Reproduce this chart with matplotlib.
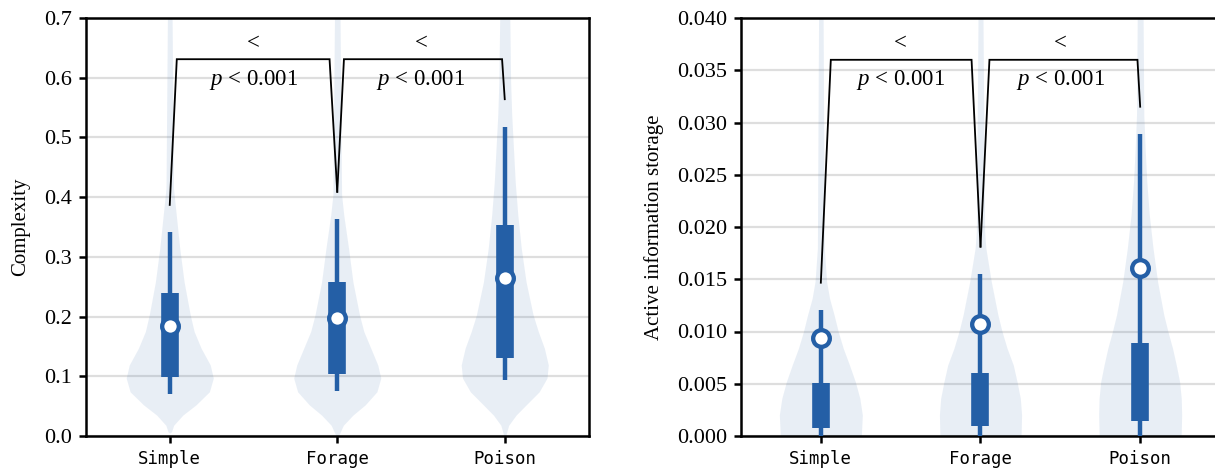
import matplotlib
matplotlib.use("Agg")
import matplotlib.pyplot as plt
import numpy as np

plt.rcParams["font.family"] = ["Liberation Serif", "DejaVu Serif"]
plt.rcParams["mathtext.fontset"] = "custom"
plt.rcParams["mathtext.rm"] = "Liberation Serif"
plt.rcParams["mathtext.it"] = "Liberation Serif:italic"

categories = ["Simple", "Forage", "Poison"]

# ---- Complexity: summary statistics per environment ----
cx_whisker_lo = [0.071, 0.075, 0.093]
cx_q1 = [0.099, 0.104, 0.131]
cx_marker = [0.185, 0.197, 0.264]
cx_q3 = [0.240, 0.258, 0.354]
cx_whisker_hi = [0.342, 0.363, 0.518]
cx_bracket_feet = [0.387, 0.409, 0.564]
cx_bracket_top = 0.631

# Complexity density profiles (value, relative density)
cx_simple_levels = [0.005, 0.007, 0.018, 0.035, 0.052, 0.074, 0.097, 0.119, 0.147,
                    0.175, 0.203, 0.258, 0.314, 0.370, 0.415, 0.70]
cx_simple_density = [0.0, 0.04, 0.09, 0.30, 0.60, 0.91, 1.0, 0.93, 0.72,
                     0.56, 0.47, 0.33, 0.23, 0.15, 0.086, 0.054]
cx_forage_levels = [0.0, 0.002, 0.018, 0.035, 0.052, 0.074, 0.097, 0.119, 0.147,
                    0.175, 0.203, 0.258, 0.314, 0.370, 0.404, 0.70]
cx_forage_density = [0.03, 0.04, 0.14, 0.36, 0.64, 0.91, 1.0, 0.93, 0.77,
                     0.61, 0.51, 0.36, 0.26, 0.15, 0.10, 0.064]
cx_poison_levels = [0.0, 0.018, 0.035, 0.052, 0.074, 0.097, 0.119, 0.147, 0.175,
                    0.203, 0.258, 0.314, 0.370, 0.426, 0.482, 0.538, 0.593, 0.70]
cx_poison_density = [0.02, 0.09, 0.26, 0.49, 0.79, 0.97, 1.0, 0.91, 0.77,
                     0.65, 0.49, 0.38, 0.30, 0.24, 0.20, 0.16, 0.135, 0.116]

# ---- Active information storage: summary statistics ----
ais_whisker_lo = [0.0, 0.0, 0.0]
ais_q1 = [0.0008, 0.0010, 0.00144]
ais_marker = [0.00935, 0.0107, 0.01611]
ais_q3 = [0.00504, 0.00606, 0.00893]
ais_whisker_hi = [0.01206, 0.0155, 0.0289]
ais_bracket_feet = [0.01467, 0.01812, 0.03151]
ais_bracket_top = 0.0360

ais_simple_levels = [-0.0005, 0.0004, 0.00201, 0.0036, 0.0052, 0.00679, 0.00839,
                     0.00998, 0.01158, 0.01317, 0.01477, 0.01796, 0.04]
ais_simple_density = [0.97, 0.98, 1.0, 0.94, 0.83, 0.69, 0.54,
                      0.42, 0.32, 0.21, 0.14, 0.083, 0.055]
ais_forage_levels = [-0.0005, 0.0004, 0.00201, 0.0036, 0.0052, 0.00679, 0.00839,
                     0.00998, 0.01158, 0.01477, 0.01796, 0.01955, 0.04]
ais_forage_density = [0.97, 0.98, 0.99, 0.96, 0.88, 0.79, 0.64,
                      0.52, 0.42, 0.26, 0.13, 0.10, 0.06]
ais_poison_levels = [-0.0005, 0.0004, 0.00201, 0.0036, 0.0052, 0.00679, 0.00839,
                     0.00998, 0.01158, 0.01477, 0.01796, 0.02115, 0.02434,
                     0.02753, 0.0307, 0.04]
ais_poison_density = [0.98, 0.99, 1.0, 0.99, 0.95, 0.87, 0.78,
                      0.67, 0.57, 0.42, 0.31, 0.22, 0.16,
                      0.12, 0.088, 0.071]

comparison_symbol = "<"
comparison_text = r"$p$ < 0.001"

BLUE = "#245fa6"
HALF_WIDTH = 0.26


def draw_panel(ax, profiles, lo, q1, mid, q3, hi, feet, top, sym_y, p_y,
               slants, ylim, yticks, fmt, ylabel):
    x = np.arange(len(categories))
    for i, (lev, dens) in enumerate(profiles):
        lev = np.asarray(lev)
        dens = np.asarray(dens)
        ax.fill_betweenx(lev, i - HALF_WIDTH * dens, i + HALF_WIDTH * dens,
                         color=BLUE, alpha=0.1, lw=0, zorder=1)
    for i in x:
        ax.plot([i, i], [lo[i], hi[i]], color=BLUE, lw=3.2,
                solid_capstyle="butt", zorder=3)
        ax.plot([i, i], [q1[i], q3[i]], color=BLUE, lw=12.7,
                solid_capstyle="butt", zorder=4)
    ax.plot(x, mid, "o", ms=12, mew=3.1, mfc="white", mec=BLUE,
            ls="none", zorder=5)

    # significance brackets between neighbouring environments
    for k in range(len(categories) - 1):
        a, b = slants[k]
        ax.plot([k, k + a, k + 1 - b, k + 1],
                [feet[k], top, top, feet[k + 1]],
                color="black", lw=1.3, zorder=6, solid_joinstyle="miter")
        ax.text(k + 0.5, sym_y, comparison_symbol, ha="center", va="center",
                fontsize=16.5)
        ax.text(k + 0.5, p_y, comparison_text, ha="center", va="center",
                fontsize=16.5)

    ax.set_xlim(-0.5, 2.5)
    ax.set_ylim(*ylim)
    ax.set_yticks(yticks)
    ax.set_yticklabels([fmt.format(t) for t in yticks], fontsize=16)
    ax.set_xticks(x)
    ax.set_xticklabels(categories, fontsize=12.5, family="DejaVu Sans Mono")
    ax.yaxis.grid(True, color="#dedede", lw=1.6)
    ax.set_axisbelow(True)
    for s in ax.spines.values():
        s.set_linewidth(1.8)
    ax.tick_params(axis="both", length=5, width=1.8, pad=5)
    ax.set_ylabel(ylabel, fontsize=15)


fig = plt.figure(figsize=(12.15, 4.72), dpi=100)
ax1 = fig.add_axes([86 / 1215, 36 / 472, 502.5 / 1215, 418 / 472])
ax2 = fig.add_axes([741 / 1215, 36 / 472, 479 / 1215, 418 / 472])

draw_panel(ax1,
           [(cx_simple_levels, cx_simple_density),
            (cx_forage_levels, cx_forage_density),
            (cx_poison_levels, cx_poison_density)],
           cx_whisker_lo, cx_q1, cx_marker, cx_q3, cx_whisker_hi,
           cx_bracket_feet, cx_bracket_top, 0.6577, 0.5963,
           [(0.042, 0.046), (0.040, 0.016)],
           (0, 0.7), np.round(np.arange(0, 0.71, 0.1), 2), "{:.1f}",
           "Complexity")
ax1.yaxis.set_label_coords(-0.112, 0.5)

draw_panel(ax2,
           [(ais_simple_levels, ais_simple_density),
            (ais_forage_levels, ais_forage_density),
            (ais_poison_levels, ais_poison_density)],
           ais_whisker_lo, ais_q1, ais_marker, ais_q3, ais_whisker_hi,
           ais_bracket_feet, ais_bracket_top, 0.03758, 0.03407,
           [(0.0625, 0.056), (0.056, 0.017)],
           (0, 0.04), np.round(np.arange(0, 0.0401, 0.005), 3), "{:.3f}",
           "Active information storage")
ax2.yaxis.set_label_coords(-0.16, 0.5)

fig.savefig("out.png", dpi=100)
